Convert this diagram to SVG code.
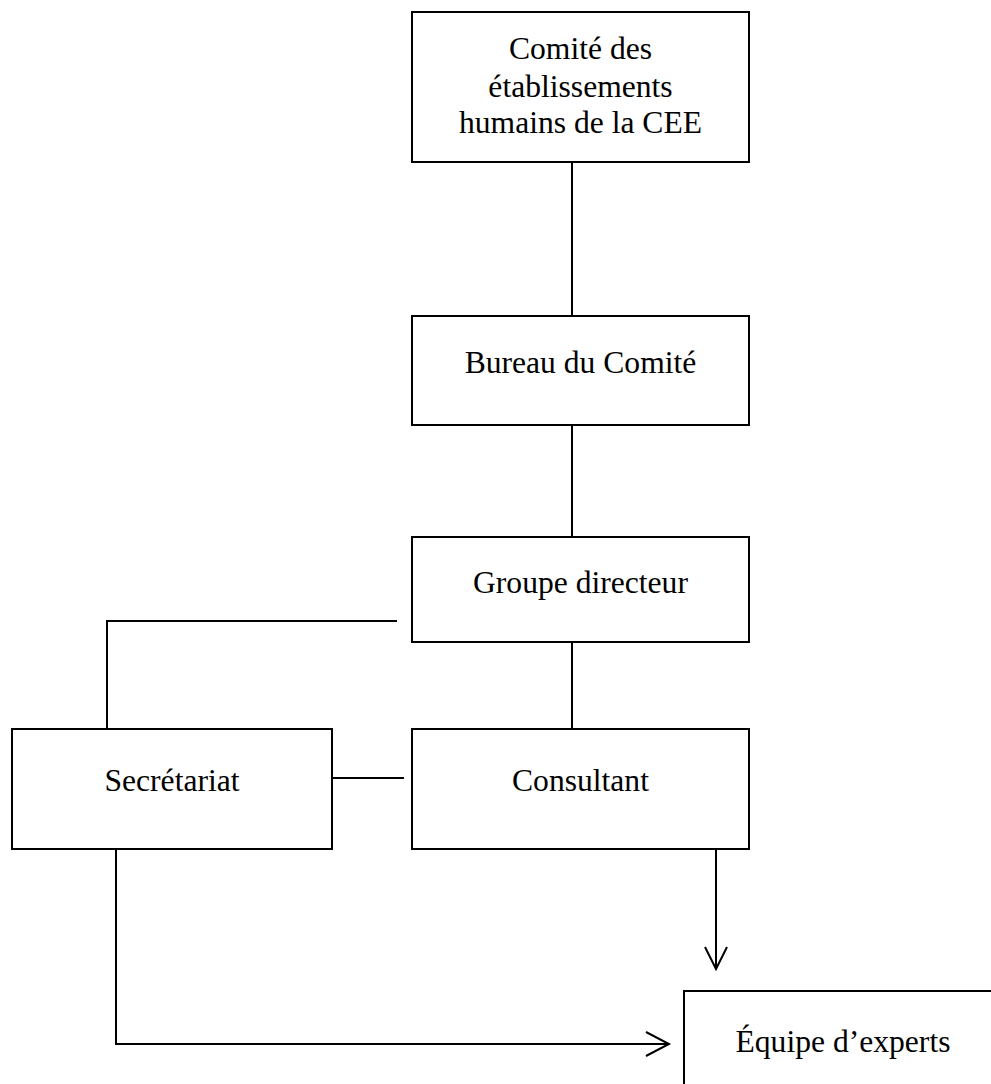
<svg xmlns="http://www.w3.org/2000/svg" width="991" height="1084" viewBox="0 0 991 1084">
<style>
.box{fill:#fff;stroke:#000;stroke-width:2}
.lbl{font-family:"Liberation Serif","Times New Roman",serif;font-size:31.6px;fill:#000;text-anchor:middle}
.ln{fill:none;stroke:#000;stroke-width:2}
</style>
<rect width="991" height="1084" fill="#fff"/>
<g id="connectors">
<line class="ln" x1="572" y1="162" x2="572" y2="316"/>
<line class="ln" x1="572" y1="425" x2="572" y2="537"/>
<line class="ln" x1="572" y1="642" x2="572" y2="729"/>
<polyline class="ln" points="397,621 107,621 107,729"/>
<line class="ln" x1="332" y1="778" x2="404" y2="778"/>
<line class="ln" x1="716" y1="849" x2="716" y2="969"/>
<polyline class="ln" points="705,947 716,969 727,947"/>
<polyline class="ln" points="116,849 116,1044 669,1044"/>
<polyline class="ln" points="646,1032 669,1044 646,1056"/>
</g>
<g id="comite">
<rect class="box" x="412" y="12" width="337" height="150"/>
<text class="lbl" x="580.5" y="59">Comité des</text>
<text class="lbl" x="580.5" y="96.5">établissements</text>
<text class="lbl" x="580.5" y="133">humains de la CEE</text>
</g>
<g id="bureau">
<rect class="box" x="412" y="316" width="337" height="109"/>
<text class="lbl" x="580.5" y="373">Bureau du Comité</text>
</g>
<g id="groupe">
<rect class="box" x="412" y="537" width="337" height="105"/>
<text class="lbl" x="580.5" y="593">Groupe directeur</text>
</g>
<g id="secretariat">
<rect class="box" x="12" y="729" width="320" height="120"/>
<text class="lbl" x="172" y="791">Secrétariat</text>
</g>
<g id="consultant">
<rect class="box" x="412" y="729" width="337" height="120"/>
<text class="lbl" x="580.5" y="791">Consultant</text>
</g>
<g id="equipe">
<rect class="box" x="684" y="991" width="330" height="120"/>
<text class="lbl" x="843" y="1052">Équipe d’experts</text>
</g>
</svg>
